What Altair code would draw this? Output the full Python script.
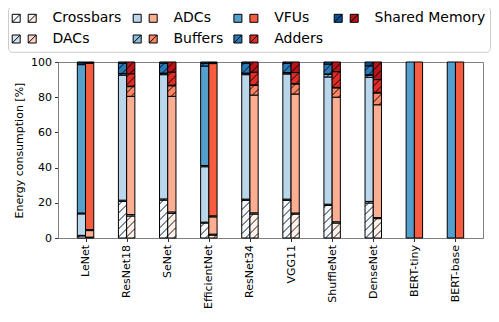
import math
import altair as alt
import pandas as pd

# ---------------- data ----------------
categories = ["LeNet", "ResNet18", "SeNet", "EfficientNet", "ResNet34",
              "VGG11", "ShuffleNet", "DenseNet", "BERT-tiny", "BERT-base"]
components = ["Crossbars", "DACs", "ADCs", "Buffers", "VFUs", "Adders", "Shared Memory"]
hatched = ["Crossbars", "DACs", "Buffers", "Adders", "Shared Memory"]

blue_share = {
    "Crossbars":     [1.2, 20.8, 21.5, 8.5, 21.4, 21.4, 18.5, 19.9, 0, 0],
    "DACs":          [0.3, 0.7, 0.7, 0.5, 0.7, 0.7, 0.7, 0.9, 0, 0],
    "ADCs":          [12.2, 71.0, 70.6, 31.5, 70.7, 71.1, 72.3, 70.5, 0, 0],
    "Buffers":       [0.5, 0.8, 0.7, 0.7, 0.7, 0.6, 1.5, 1.2, 0, 0],
    "VFUs":          [84.3, 0.2, 0.2, 56.5, 0.2, 0.2, 0.2, 0.3, 100, 100],
    "Adders":        [1.0, 5.8, 5.6, 1.5, 5.6, 5.3, 5.6, 5.0, 0, 0],
    "Shared Memory": [0.5, 0.7, 0.7, 0.8, 0.7, 0.7, 1.2, 2.2, 0, 0],
}
red_share = {
    "Crossbars":     [0.3, 12.5, 14.0, 1.6, 13.6, 13.6, 8.5, 11.0, 0, 0],
    "DACs":          [0.2, 0.8, 0.8, 0.6, 0.7, 0.6, 0.7, 0.6, 0, 0],
    "ADCs":          [3.7, 67.2, 65.7, 9.8, 66.9, 67.6, 70.8, 64.1, 0, 0],
    "Buffers":       [0.6, 5.5, 6.0, 0.6, 5.5, 5.7, 5.3, 6.7, 0, 0],
    "VFUs":          [94.5, 0.3, 0.3, 86.5, 0.3, 0.3, 0.3, 0.4, 100, 100],
    "Adders":        [0.4, 7.0, 7.5, 0.5, 7.2, 6.2, 8.9, 7.2, 0, 0],
    "Shared Memory": [0.3, 6.7, 5.7, 0.4, 5.8, 6.0, 5.5, 10.0, 0, 0],
}

blue_colors = ["#f4f9fe", "#d4e4f4", "#bad6eb", "#8dc0de", "#559fcd", "#2a79b8", "#0c4f95"]
red_colors = ["#fff1ea", "#fdd7c6", "#fcae93", "#fb8565", "#f65d40", "#e02d26", "#b81419"]

# ---------------- layout ----------------
PLOT_W, PLOT_H = 425, 176
X_MIN, X_MAX = -0.67, len(categories) - 1 + 0.67
BAR_W = 0.2
SX = PLOT_W / (X_MAX - X_MIN)
SY = PLOT_H / 100.0
HATCH = 8.0
FONT = "DejaVu Sans"

series = [("blue", blue_share, blue_colors, -BAR_W), ("red", red_share, red_colors, 0.0)]

rows, hatch_rows = [], []
for ci, cat in enumerate(categories):
    for sname, share, cols, off in series:
        base = 0.0
        xl, xr = ci + off, ci + off + BAR_W
        for k, comp in enumerate(components):
            v = share[comp][ci]
            if v <= 0:
                continue
            y0, y1 = base, base + v
            rows.append(dict(cat=cat, key=f"{sname}|{comp}", x0=xl, x1=xr, y0=y0, y1=y1))
            if comp in hatched:
                Ul, Ur, V0, V1 = xl * SX, xr * SX, y0 * SY, y1 * SY
                kmin = math.floor((V0 - Ur) / HATCH)
                kmax = math.ceil((V1 - Ul) / HATCH)
                for kk in range(kmin, kmax + 1):
                    c = kk * HATCH
                    us, ue = max(Ul, V0 - c), min(Ur, V1 - c)
                    if ue - us > 0.05:
                        hatch_rows.append(dict(hx0=us / SX, hy0=(us + c) / SY,
                                               hx1=ue / SX, hy1=(ue + c) / SY))
            base = y1

df = pd.DataFrame(rows)
hdf = pd.DataFrame(hatch_rows)

keys = [f"{s}|{c}" for s, _, _, _ in series for c in components]
key_colors = blue_colors + red_colors

label_expr = "[" + ",".join(f"'{c}'" for c in categories) + "][datum.value]"
xscale = alt.Scale(domain=[X_MIN, X_MAX], nice=False, zero=False)
yscale = alt.Scale(domain=[0, 100], nice=False)

bars = alt.Chart(df).mark_rect(stroke="black", strokeWidth=1).encode(
    x=alt.X("x0:Q", scale=xscale,
            axis=alt.Axis(values=list(range(len(categories))), labelExpr=label_expr,
                          labelAngle=270, title=None, grid=False, labelFontSize=11,
                          tickSize=3.5, labelPadding=3, domainColor="#808080",
                          tickColor="#333333", labelColor="black")),
    x2="x1:Q",
    y=alt.Y("y0:Q", scale=yscale,
            axis=alt.Axis(values=[0, 20, 40, 60, 80, 100], title="Energy consumption [%]",
                          grid=False, labelFontSize=11, titleFontSize=11,
                          titleFontWeight="normal", tickSize=3.5, labelPadding=3,
                          titlePadding=6, domainColor="#808080", tickColor="#333333",
                          labelColor="black", titleColor="black")),
    y2="y1:Q",
    color=alt.Color("key:N", scale=alt.Scale(domain=keys, range=key_colors), legend=None),
)

hatch = alt.Chart(hdf).mark_rule(color="black", strokeWidth=0.9).encode(
    x=alt.X("hx0:Q", scale=xscale, axis=None),
    x2="hx1:Q",
    y=alt.Y("hy0:Q", scale=yscale, axis=None),
    y2="hy1:Q",
)

# ---------------- legend ----------------
leg_cols = [0, 0, 1, 1, 2, 2, 3]
leg_rows = [0, 1, 0, 1, 0, 1, 0]
leg = pd.DataFrame(dict(name=components, col=leg_cols, row=leg_rows,
                        bc=blue_colors, rc=red_colors,
                        h=[c in hatched for c in components]))
lx = alt.X("col:Q", scale=alt.Scale(domain=[0, 1, 2, 3], range=[-41.8, 79.2, 179.9, 280.2]), axis=None)
ly = alt.Y("row:Q", scale=alt.Scale(domain=[0, 1], range=[-43.7, -23.0]), axis=None)

frame = alt.Chart(pd.DataFrame({"a": [0]})).mark_rect(
    fill="white", stroke="#cccccc", strokeWidth=1, cornerRadius=4
).encode(x=alt.value(-49.5), x2=alt.value(432.5), y=alt.value(-55.3), y2=alt.value(-9.7))

sq_b = alt.Chart(leg).mark_square(size=64, opacity=1, strokeWidth=1, filled=True).encode(
    x=lx, y=ly, fill=alt.Fill("bc:N", scale=None), stroke=alt.value("black"),
    strokeOpacity=alt.value(1))
sq_r = alt.Chart(leg).mark_square(size=64, opacity=1, strokeWidth=1, filled=True, xOffset=16).encode(
    x=lx, y=ly, fill=alt.Fill("rc:N", scale=None), stroke=alt.value("black"),
    strokeOpacity=alt.value(1))
hb = alt.Chart(leg).transform_filter("datum.h").mark_point(
    shape="M-1,1L1,-1", size=64, filled=False, color="black", strokeWidth=1, opacity=1).encode(x=lx, y=ly)
hr = alt.Chart(leg).transform_filter("datum.h").mark_point(
    shape="M-1,1L1,-1", size=64, filled=False, color="black", strokeWidth=1, opacity=1, xOffset=16).encode(x=lx, y=ly)
txt = alt.Chart(leg).mark_text(align="left", baseline="middle", dx=36.3, fontSize=14, font=FONT, color="black").encode(
    x=lx, y=ly, text="name:N")

chart = alt.layer(bars, hatch, frame, sq_b, sq_r, hb, hr, txt).resolve_scale(
    x="independent", y="independent"
).properties(
    width=PLOT_W, height=PLOT_H,
    autosize=alt.AutoSizeParams(type="none"),
    padding={"left": 50, "top": 54, "right": 8, "bottom": 76},
).configure(font=FONT).configure_view(stroke="#808080", strokeWidth=1)

chart.save("out.html", embed_options={"renderer": "svg", "actions": False})
